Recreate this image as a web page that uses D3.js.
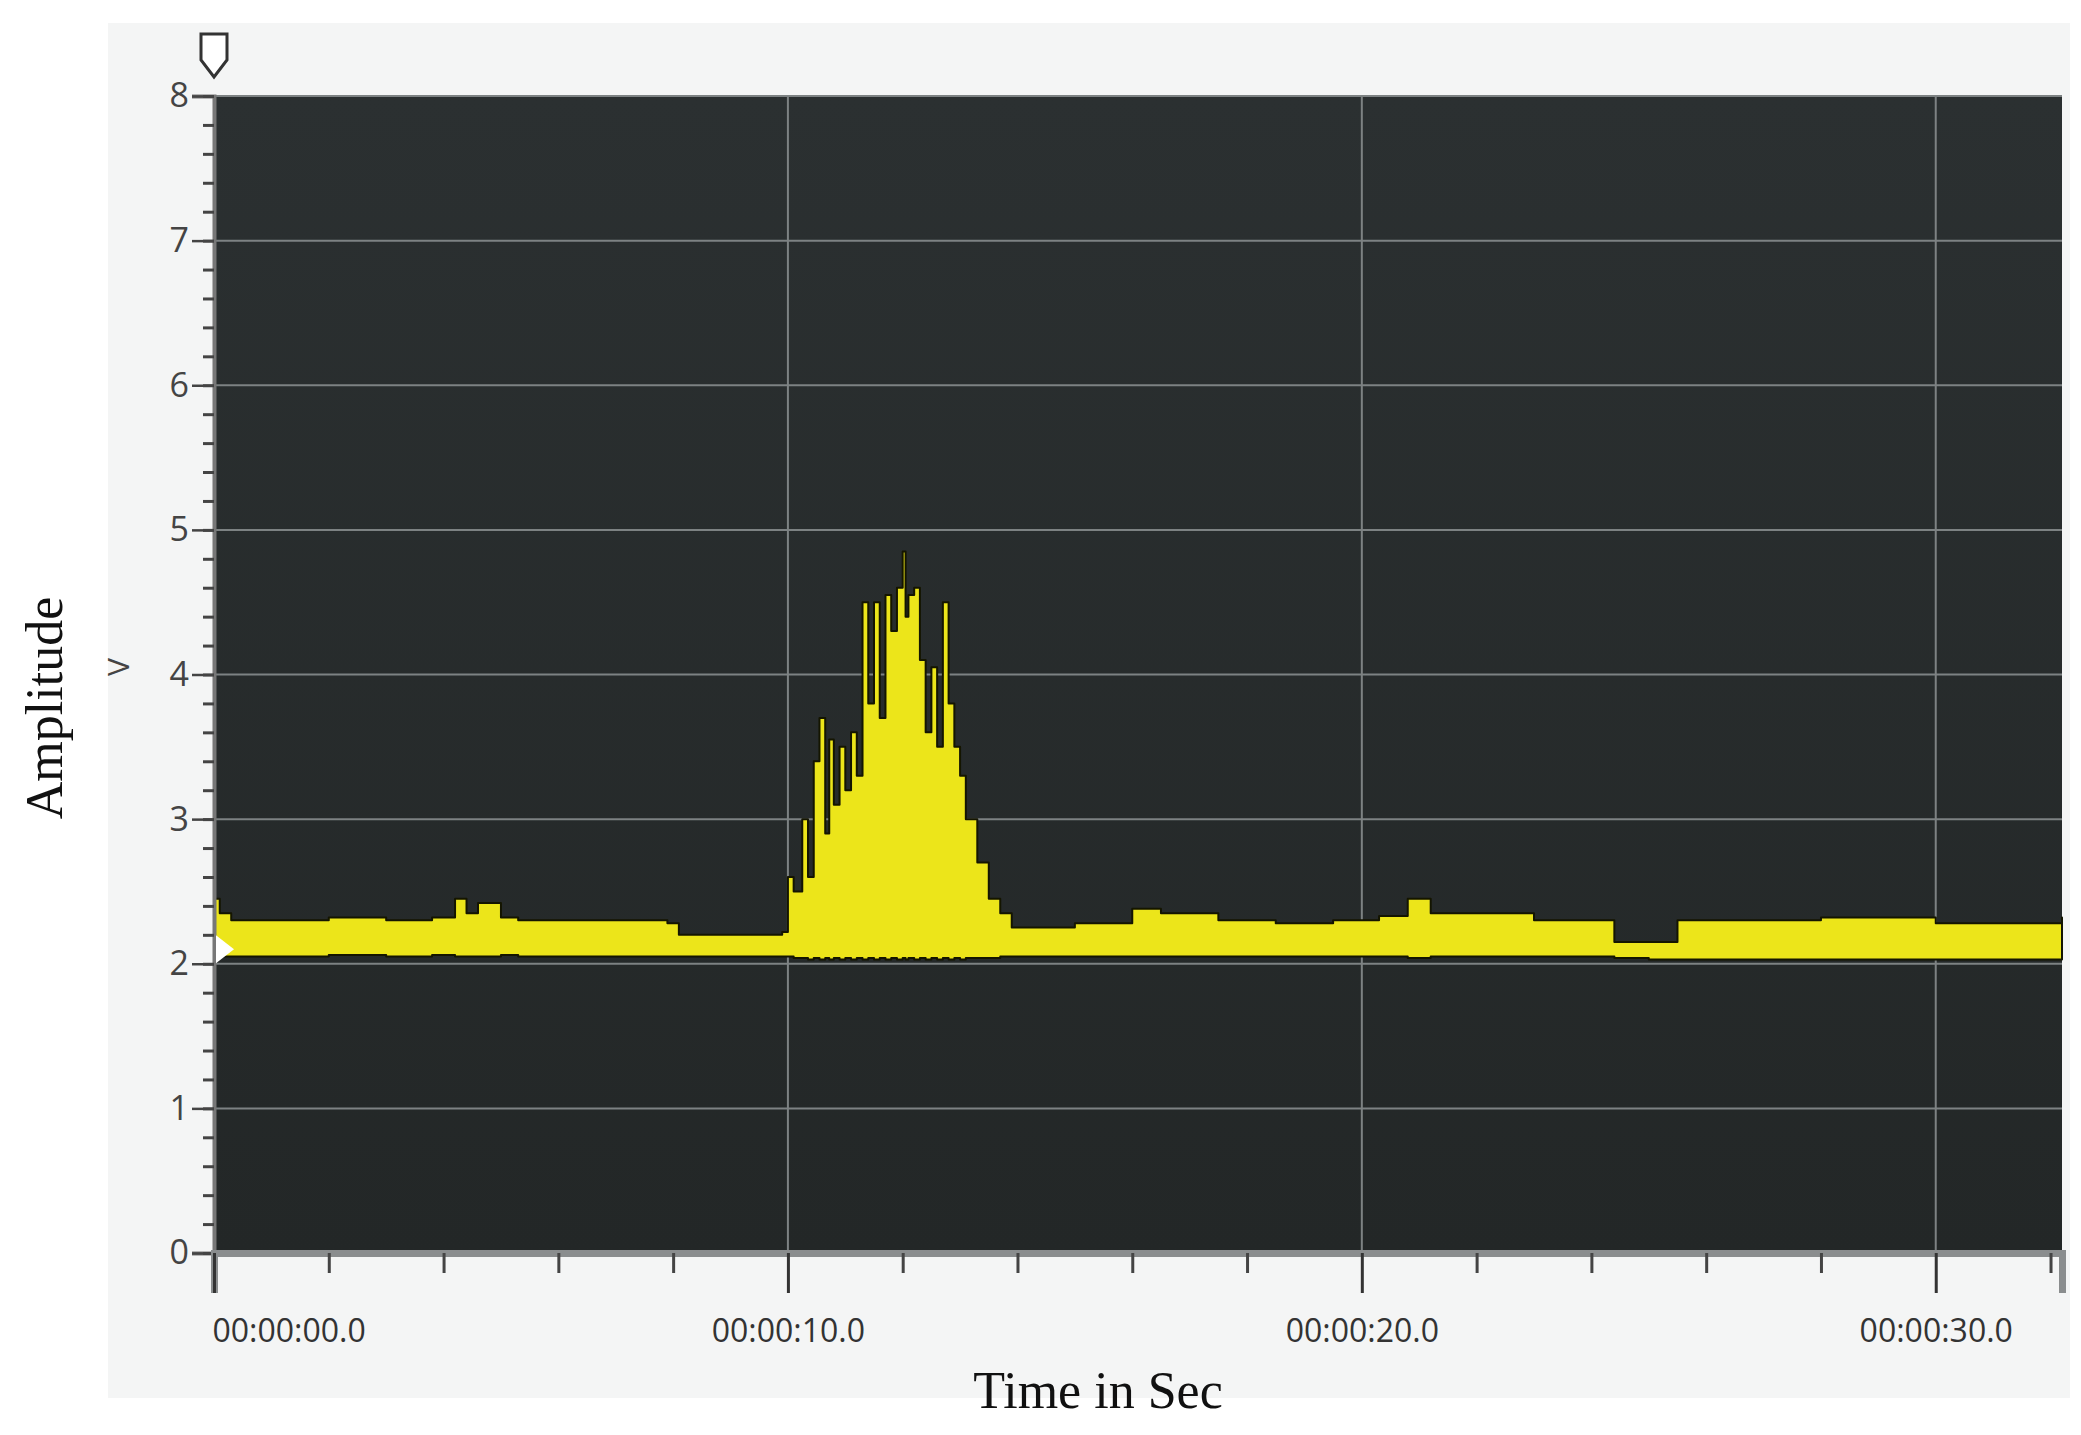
<!DOCTYPE html>
<html>
<head>
<meta charset="utf-8">
<script src="https://cdn.jsdelivr.net/npm/d3@7"></script>
<style>
  body { margin: 0; background: #fff; }
  text { font-family: "Open Sans", "Noto Sans", sans-serif; }
</style>
</head>
<body>
<svg id="chart" width="2081" height="1435"></svg>
<script>
// signal envelope, time in seconds
var times = [0, 0.1, 0.3, 1, 2, 3, 3.8, 4.2, 4.4, 4.6, 5, 5.3, 6, 7, 7.9, 8.1, 9, 9.9,
  10.0, 10.1, 10.25, 10.35, 10.45, 10.55, 10.65, 10.72, 10.8, 10.9, 11.0, 11.1, 11.2,
  11.3, 11.4, 11.5, 11.6, 11.7, 11.8, 11.9, 12.0, 12.05, 12.1, 12.2, 12.3, 12.4, 12.5,
  12.6, 12.7, 12.8, 12.9, 13.0, 13.1, 13.3, 13.5, 13.7, 13.9, 14.2, 15, 16, 16.5,
  17.5, 18.5, 19.5, 20.3, 20.8, 21.2, 22, 23, 24, 24.4, 25, 25.5, 26.5, 28, 30, 32.2];
var upper = [2.45, 2.35, 2.3, 2.3, 2.32, 2.3, 2.32, 2.45, 2.35, 2.42, 2.32, 2.3, 2.3, 2.3, 2.28, 2.2, 2.2, 2.22,
  2.6, 2.5, 3.0, 2.6, 3.4, 3.7, 2.9, 3.55, 3.1, 3.5, 3.2, 3.6, 3.3,
  4.5, 3.8, 4.5, 3.7, 4.55, 4.3, 4.6, 4.85, 4.4, 4.55, 4.6, 4.1, 3.6, 4.05,
  3.5, 4.5, 3.8, 3.5, 3.3, 3.0, 2.7, 2.45, 2.35, 2.25, 2.25, 2.28, 2.38, 2.35,
  2.3, 2.28, 2.3, 2.33, 2.45, 2.35, 2.35, 2.3, 2.3, 2.15, 2.15, 2.3, 2.3, 2.32, 2.28, 2.32];
var lower = [2.08, 2.05, 2.05, 2.05, 2.06, 2.05, 2.06, 2.05, 2.05, 2.05, 2.06, 2.05, 2.05, 2.05, 2.05, 2.05, 2.05, 2.05,
  2.05, 2.04, 2.04, 2.03, 2.04, 2.03, 2.04, 2.03, 2.04, 2.03, 2.04, 2.03, 2.04,
  2.03, 2.04, 2.03, 2.04, 2.03, 2.04, 2.03, 2.04, 2.03, 2.04, 2.03, 2.04, 2.03, 2.04,
  2.03, 2.04, 2.03, 2.04, 2.03, 2.04, 2.04, 2.04, 2.05, 2.05, 2.05, 2.05, 2.05, 2.05,
  2.05, 2.05, 2.05, 2.05, 2.04, 2.05, 2.05, 2.05, 2.05, 2.04, 2.03, 2.03, 2.03, 2.03, 2.03, 2.03];
var yTicks = [0, 1, 2, 3, 4, 5, 6, 7, 8];
var xTicks = [0, 10, 20, 30];
var xTickLabels = ["00:00:00.0", "00:00:10.0", "00:00:20.0", "00:00:30.0"];

var svg = d3.select("#chart");
var plotL = 214, plotR = 2062, plotT = 96, plotB = 1253;

var x = d3.scaleLinear().domain([0, 32.2]).range([plotL, plotR]);
var y = d3.scaleLinear().domain([0, 8]).range([plotB, plotT]);

// light panel
svg.append("rect").attr("x", 108).attr("y", 23).attr("width", 1962).attr("height", 1375)
  .attr("fill", "#f4f5f5");

var defs = svg.append("defs");
var g1 = defs.append("linearGradient").attr("id", "bg").attr("x1", 0).attr("x2", 0).attr("y1", 0).attr("y2", 1);
g1.append("stop").attr("offset", "0%").attr("stop-color", "#2b3031");
g1.append("stop").attr("offset", "100%").attr("stop-color", "#232727");
svg.append("rect").attr("x", plotL).attr("y", plotT).attr("width", plotR - plotL).attr("height", plotB - plotT)
  .attr("fill", "url(#bg)");

// grid
svg.append("g").selectAll("line").data(yTicks.slice(1)).join("line")
  .attr("x1", plotL).attr("x2", plotR).attr("y1", d => y(d)).attr("y2", d => y(d))
  .attr("stroke", "#7d8283").attr("stroke-width", 2);
svg.append("g").selectAll("line").data(xTicks.slice(1)).join("line")
  .attr("y1", plotT).attr("y2", plotB).attr("x1", d => x(d)).attr("x2", d => x(d))
  .attr("stroke", "#7d8283").attr("stroke-width", 2);

// signal band
var band = d3.area().x((d, i) => x(times[i])).y0((d, i) => y(lower[i])).y1((d, i) => y(upper[i]))
  .curve(d3.curveStepAfter);
svg.append("path").datum(upper).attr("d", band)
  .attr("fill", "#ece51a").attr("stroke", "#141500").attr("stroke-width", 2)
  .attr("stroke-linejoin", "round");

// axes
var yAxis = d3.axisLeft(y).tickValues(yTicks).tickSize(22).tickPadding(3);
var ya = svg.append("g").attr("transform", "translate(" + plotL + ",0)").call(yAxis);
ya.select(".domain").attr("stroke", "#777").attr("stroke-width", 4);
ya.selectAll(".tick line").attr("stroke", "#444").attr("stroke-width", 2.5);
ya.selectAll("text").attr("font-size", 34).attr("fill", "#444");
svg.append("g").attr("transform", "translate(" + plotL + ",0)")
  .call(d3.axisLeft(y).tickValues(d3.range(0, 8.01, 0.2)).tickSize(11).tickFormat(""))
  .call(g => g.select(".domain").remove())
  .selectAll("line").attr("stroke", "#444").attr("stroke-width", 3);

var xa = svg.append("g").attr("transform", "translate(0," + plotB + ")")
  .call(d3.axisBottom(x).tickValues(xTicks).tickSize(40).tickPadding(26)
    .tickFormat((d, i) => xTickLabels[i]));
xa.select(".domain").attr("stroke", "#8a8d8e").attr("stroke-width", 7);
xa.selectAll(".tick line").attr("stroke", "#333").attr("stroke-width", 3);
xa.selectAll("text").attr("font-size", 32).attr("fill", "#333")
  .attr("text-anchor", (d, i) => i == 0 ? "start" : "middle").attr("dx", (d, i) => i == 0 ? -2 : 0);
svg.append("g").attr("transform", "translate(0," + plotB + ")")
  .call(d3.axisBottom(x).tickValues(d3.range(2, 32.1, 2).filter(v => v % 10 != 0)).tickSize(20).tickFormat(""))
  .call(g => g.select(".domain").remove())
  .selectAll("line").attr("stroke", "#444").attr("stroke-width", 3);

// cursor markers
svg.append("path").attr("d", "M" + (plotL - 13) + ",34 h26 v26 l-13,17 l-13,-17 Z")
  .attr("fill", "#fff").attr("stroke", "#333").attr("stroke-width", 3);
svg.append("path").attr("d", "M" + (plotL + 2) + "," + (y(2.1) - 14) + " l18,14 l-18,14 Z").attr("fill", "#fff");

// labels
svg.append("text").attr("x", 129).attr("y", 667).attr("transform", "rotate(-90,129,667)")
  .attr("text-anchor", "middle").attr("font-size", 30).attr("fill", "#444").text("V");
svg.append("text").attr("transform", "translate(62,708) rotate(-90)")
  .attr("text-anchor", "middle").style("font-family", "'Liberation Serif', 'DejaVu Serif', serif")
  .attr("font-size", 52).attr("fill", "#111").text("Amplitude");
svg.append("text").attr("x", 1098).attr("y", 1408)
  .attr("text-anchor", "middle").style("font-family", "'Liberation Serif', 'DejaVu Serif', serif")
  .attr("font-size", 52).attr("fill", "#111").text("Time in Sec");
</script>
</body>
</html>
